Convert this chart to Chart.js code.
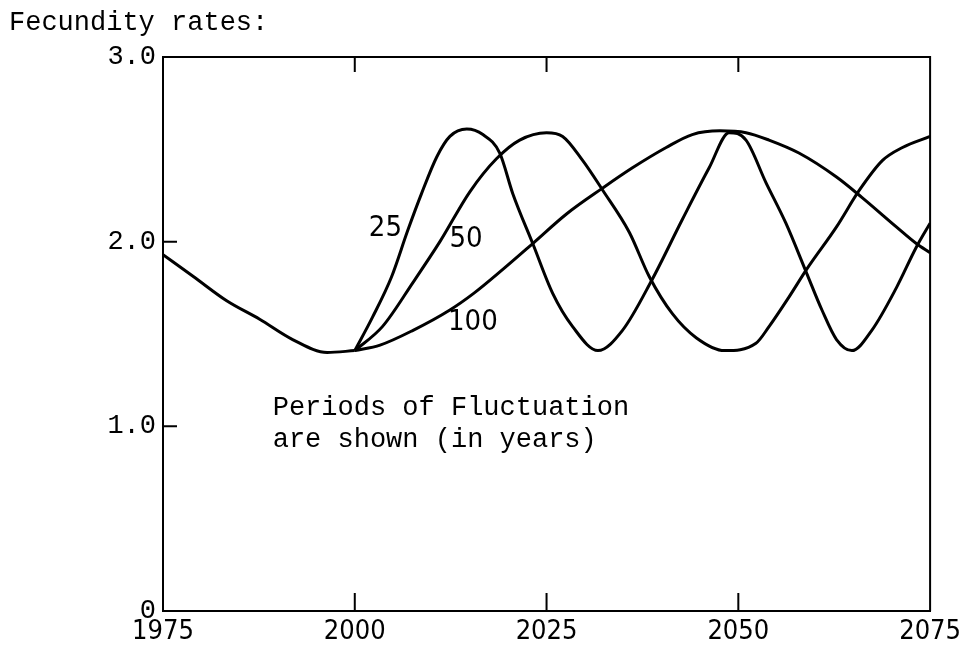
<!DOCTYPE html>
<html>
<head>
<meta charset="utf-8">
<script src="https://cdn.jsdelivr.net/npm/chart.js@4.4.1/dist/chart.umd.min.js"></script>
<style>
    html, body { margin: 0; padding: 0; background: #fff; }
    #wrap { width: 966px; height: 652px; position: relative; }
</style>
</head>
<body>
<div id="wrap"><canvas id="fecundityChart"></canvas></div>
<script>
// shared history 1975-2000
const baseYears  = [1975, 1979, 1983.3, 1987.6, 1991.9, 1996.4, 2000];
const baseValues = [1.93, 1.81, 1.68, 1.58, 1.47, 1.40, 1.41];

// period 25
const p25Years  = [2000, 2002.3, 2004.8, 2006.9, 2008.7, 2010.7, 2012.4, 2014.6, 2016.7, 2018.9, 2020.6, 2023.2, 2025.8, 2028.4, 2031.7,
                   2034.9, 2038.7, 2042.7, 2046.2, 2048.8, 2051, 2053.6, 2056.2, 2058.9, 2060.9, 2062.8, 2064.8, 2067.4, 2070.6, 2073.2, 2075];
const p25Values = [1.41, 1.59, 1.81, 2.06, 2.26, 2.46, 2.57, 2.61, 2.58, 2.48, 2.26, 1.99, 1.72, 1.54, 1.41,
                   1.52, 1.79, 2.12, 2.40, 2.59, 2.55, 2.32, 2.10, 1.83, 1.63, 1.47, 1.41, 1.52, 1.75, 1.97, 2.10];

// period 50
const p50Years  = [2000, 2003.6, 2007.6, 2011.1, 2015, 2018.5, 2021.5, 2025, 2027.1, 2029.7, 2032.3, 2035.8, 2038.4, 2041.4, 2044.5,
                   2048.2, 2052.3, 2054, 2056.6, 2058.9, 2062.8, 2065.8, 2068.8, 2071.4, 2075];
const p50Values = [1.41, 1.54, 1.78, 2.00, 2.27, 2.45, 2.55, 2.59, 2.57, 2.44, 2.28, 2.05, 1.81, 1.61, 1.48,
                   1.41, 1.45, 1.54, 1.70, 1.85, 2.08, 2.28, 2.44, 2.51, 2.57];

// period 100
const p100Years  = [2000, 2003.3, 2007.6, 2012.4, 2015.5, 2019.3, 2023.2, 2027.6, 2032.3, 2036.2, 2040.6, 2044, 2047.6, 2051,
                    2054, 2057.9, 2062.8, 2066.1, 2070.6, 2073.2, 2075];
const p100Values = [1.41, 1.44, 1.52, 1.63, 1.72, 1.85, 1.99, 2.15, 2.29, 2.40, 2.51, 2.58, 2.60, 2.59,
                    2.55, 2.48, 2.35, 2.24, 2.08, 1.99, 1.94];

const innerTicksX = [2000, 2025, 2050];
const innerTicksY = [1, 2];

const curveLabels = [
    { text: '25',  x: 2004.0, y: 2.07 },
    { text: '50',  x: 2014.5, y: 2.01 },
    { text: '100', x: 2015.4, y: 1.56 }
];
const noteLines = [
    { text: 'Periods of Fluctuation', x: 1989.3, y: 1.061 },
    { text: 'are shown (in years)',   x: 1989.3, y: 0.888 }
];

const typeFont = '"Liberation Mono", "DejaVu Sans Mono", monospace';
const handFont = '"Liberation Sans Narrow", "DejaVu Sans Condensed", sans-serif';

function toPoints(xs, ys) {
    return xs.map((x, i) => ({ x: x, y: ys[i] }));
}

function lineSet(label, xs, ys) {
    return {
        label: label,
        data: toPoints(xs, ys),
        borderColor: '#000',
        borderWidth: 3,
        pointRadius: 0,
        fill: false,
        cubicInterpolationMode: 'monotone'
    };
}

const framePlugin = {
    id: 'frame',
    afterDatasetsDraw(chart) {
        const { ctx, chartArea: a, scales: { x, y } } = chart;
        ctx.save();
        ctx.strokeStyle = '#000';
        ctx.lineWidth = 2;
        ctx.beginPath();
        ctx.moveTo(a.left, a.top);
        ctx.lineTo(a.right, a.top);
        ctx.lineTo(a.right, a.bottom);
        innerTicksX.forEach(v => {
            const px = x.getPixelForValue(v);
            ctx.moveTo(px, a.bottom);
            ctx.lineTo(px, a.bottom - 18);
            ctx.moveTo(px, a.top);
            ctx.lineTo(px, a.top + 15);
        });
        innerTicksY.forEach(v => {
            const py = y.getPixelForValue(v);
            ctx.moveTo(a.left, py);
            ctx.lineTo(a.left + 14, py);
        });
        ctx.stroke();

        ctx.fillStyle = '#000';
        ctx.textBaseline = 'alphabetic';
        ctx.textAlign = 'left';
        ctx.font = '27px ' + typeFont;
        ctx.fillText('Fecundity rates:', 9, 30);
        noteLines.forEach(n => {
            ctx.fillText(n.text, x.getPixelForValue(n.x), y.getPixelForValue(n.y));
        });

        ctx.textAlign = 'center';
        ctx.textBaseline = 'middle';
        ctx.font = '29px ' + handFont;
        curveLabels.forEach(l => {
            ctx.fillText(l.text, x.getPixelForValue(l.x), y.getPixelForValue(l.y));
        });
        ctx.restore();
    }
};

document.addEventListener('DOMContentLoaded', function() {
    const ctx = document.getElementById('fecundityChart').getContext('2d');
    new Chart(ctx, {
        type: 'line',
        data: {
            datasets: [
                lineSet('base', baseYears, baseValues),
                lineSet('25', p25Years, p25Values),
                lineSet('50', p50Years, p50Values),
                lineSet('100', p100Years, p100Values)
            ]
        },
        options: {
            responsive: true,
            maintainAspectRatio: false,
            animation: false,
            layout: {
                padding: { left: 0, right: 35, top: 57, bottom: 0 }
            },
            plugins: {
                legend: { display: false },
                tooltip: { enabled: false }
            },
            scales: {
                x: {
                    type: 'linear',
                    min: 1975,
                    max: 2075,
                    grid: { display: false, drawTicks: false },
                    border: { color: '#000', width: 2 },
                    ticks: {
                        stepSize: 25,
                        padding: 5,
                        color: '#000',
                        font: { family: handFont, size: 27 },
                        maxRotation: 0,
                        callback: v => String(v)
                    },
                    afterFit: scale => { scale.height = 41; }
                },
                y: {
                    min: 0,
                    max: 3,
                    grid: { display: false, drawTicks: false },
                    border: { color: '#000', width: 2 },
                    ticks: {
                        stepSize: 1,
                        padding: 7,
                        color: '#000',
                        font: { family: typeFont, size: 27 },
                        callback: v => v === 0 ? '0' : v.toFixed(1)
                    },
                    afterFit: scale => { scale.width = 163; }
                }
            }
        },
        plugins: [framePlugin]
    });
});
</script>
</body>
</html>
